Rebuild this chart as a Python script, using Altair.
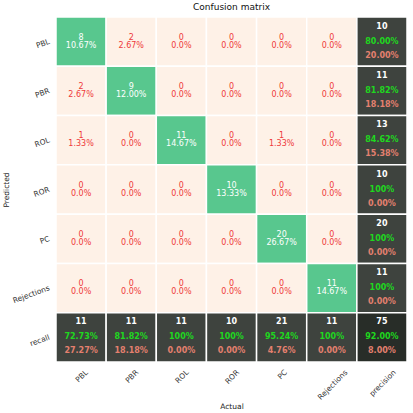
import altair as alt
import pandas as pd

labels = ["PBL", "PBR", "ROL", "ROR", "PC", "Rejections"]
counts = [
    [8, 2, 0, 0, 0, 0],
    [2, 9, 0, 0, 0, 0],
    [1, 0, 11, 0, 1, 0],
    [0, 0, 0, 10, 0, 0],
    [0, 0, 0, 0, 20, 0],
    [0, 0, 0, 0, 0, 11],
]
col_order = labels + ["precision"]
row_order = labels + ["recall"]

GREEN = "#58C78E"
PEACH = "#FEF1E7"
DARK = "#3E433E"
DARKER = "#282D28"
RED = "#EE3A3A"
LIME = "#1ED81E"
SALMON = "#E4806F"

total = sum(sum(r) for r in counts)


def pct_ok(v):
    return "100%" if abs(v - 100) < 1e-9 else f"{v:.2f}%"


recs = []
n = len(labels)
for i, r in enumerate(labels):
    for j, c in enumerate(labels):
        v = counts[i][j]
        p = v / total * 100
        recs.append(dict(row=r, col=c, kind="cell",
                         fill=GREEN if i == j else PEACH,
                         t1=str(v), t2="0.0%" if v == 0 else f"{p:.2f}%", t3="",
                         c1="white" if i == j else RED))
    rs = sum(counts[i])
    ok = counts[i][i] / rs * 100
    recs.append(dict(row=r, col="precision", kind="tot", fill=DARK,
                     t1=str(rs), t2=pct_ok(ok), t3=f"{100 - ok:.2f}%", c1="white"))
for j, c in enumerate(labels):
    cs = sum(counts[i][j] for i in range(n))
    ok = counts[j][j] / cs * 100
    recs.append(dict(row="recall", col=c, kind="tot", fill=DARK,
                     t1=str(cs), t2=pct_ok(ok), t3=f"{100 - ok:.2f}%", c1="white"))
diag = sum(counts[i][i] for i in range(n))
acc = diag / total * 100
recs.append(dict(row="recall", col="precision", kind="tot", fill=DARKER,
                 t1=str(total), t2=pct_ok(acc), t3=f"{100 - acc:.2f}%", c1="white"))

df = pd.DataFrame(recs)

FONT = "DejaVu Sans"
LABEL_SIZE = 7.5

# approximate DejaVu Sans glyph widths (em) to centre the rotated x labels on their ticks
W = {"P": .603, "B": .686, "L": .557, "R": .695, "O": .787, "C": .698, "e": .615,
     "j": .278, "c": .550, "t": .392, "i": .278, "o": .612, "n": .634, "s": .521,
     "r": .411, "p": .635}


def text_len(s):
    return sum(W.get(ch, .6) for ch in s) * LABEL_SIZE


x_offset = {
    "condition": [{"test": f"datum.value == '{lab}'", "value": round(0.354 * text_len(lab) + 1, 1)}
                  for lab in col_order],
    "value": 0,
}

x = alt.X("col:N", sort=col_order, title="Actual",
          scale=alt.Scale(paddingInner=0, paddingOuter=0),
          axis=alt.Axis(labelAngle=-45, labelAlign="right", labelBaseline="middle",
                        labelPadding=9, labelOffset=x_offset, ticks=False, domain=False,
                        labelFontSize=LABEL_SIZE, labelColor="#333333",
                        titleFontSize=7.5, titleFontWeight="normal",
                        titleColor="#222222", titleY=44, titleBaseline="middle"))
y = alt.Y("row:N", sort=row_order, title="Predicted",
          scale=alt.Scale(paddingInner=0, paddingOuter=0),
          axis=alt.Axis(labelAngle=-20, labelAlign="right", labelBaseline="middle",
                        labelPadding=7, ticks=False, domain=False,
                        labelFontSize=LABEL_SIZE, labelColor="#333333",
                        titleFontSize=7.5, titleFontWeight="normal",
                        titleColor="#222222", titleX=-50, titleBaseline="middle"))

base = alt.Chart(df).encode(x=x, y=y)

rects = base.mark_rect(stroke="white", strokeWidth=1.5).encode(
    fill=alt.Fill("fill:N", scale=None))

cell = base.transform_filter(alt.datum.kind == "cell")
tot = base.transform_filter(alt.datum.kind == "tot")

c_t1 = cell.mark_text(fontSize=8, dy=-4, font=FONT).encode(
    text="t1:N", color=alt.Color("c1:N", scale=None))
c_t2 = cell.mark_text(fontSize=8, dy=4, font=FONT).encode(
    text="t2:N", color=alt.Color("c1:N", scale=None))
d_t1 = tot.mark_text(fontSize=8, dy=-15, font=FONT, fontWeight="bold", color="white").encode(
    text="t1:N")
d_t2 = tot.mark_text(fontSize=8, dy=0, font=FONT, fontWeight="bold", color=LIME).encode(
    text="t2:N")
d_t3 = tot.mark_text(fontSize=8, dy=14, font=FONT, fontWeight="bold", color=SALMON).encode(
    text="t3:N")

chart = alt.layer(rects, c_t1, c_t2, d_t1, d_t2, d_t3).properties(
    width=351, height=345,
    padding={"left": 56, "top": 17, "right": 6, "bottom": 51},
    autosize=alt.AutoSizeParams(type="none"),
    title=alt.TitleParams("Confusion matrix", fontSize=9, fontWeight="normal",
                          offset=4, font=FONT, color="#111111"),
).configure(font=FONT).configure_view(stroke=None)

chart.save("out.html", embed_options={"renderer": "svg", "actions": False})
